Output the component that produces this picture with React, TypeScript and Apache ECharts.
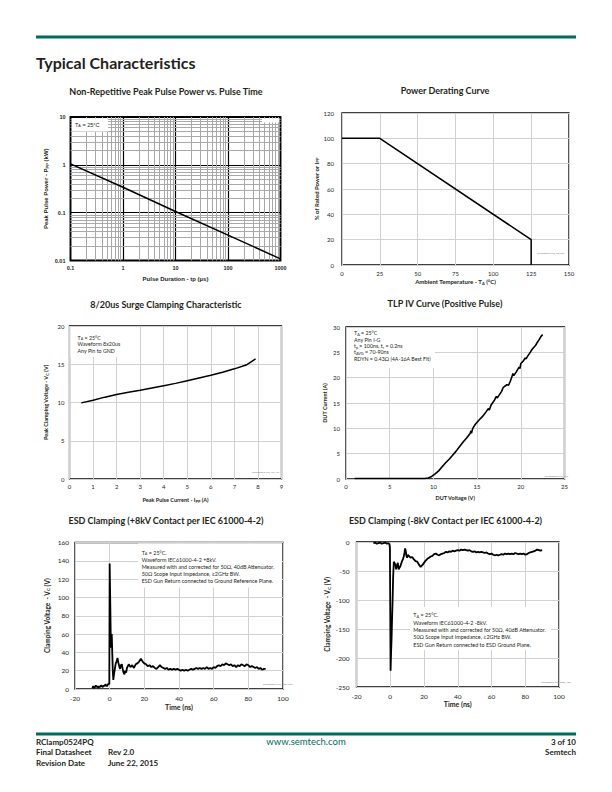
import React, { useEffect, useRef } from 'react';
import * as echarts from 'echarts';

// ---------- DATA ----------
const pulseDuration = [0.1, 1, 10, 100, 1000];
const pulsePower = [1.05, 0.34, 0.106, 0.034, 0.0108];
const minorSteps = [2, 3, 4, 5, 6, 7, 8, 9];
const pulseXDecades = [0.1, 1, 10, 100];
const pulseYDecades = [0.01, 0.1, 1];

const derateTemp = [0, 25, 125, 125];
const deratePct = [100, 100, 20, 0];

const surgeCurrent = [0.5, 1, 1.5, 2, 2.5, 3, 3.5, 4, 4.5, 5, 5.5, 6, 6.5, 7, 7.5, 7.9];
const surgeVoltage = [9.95, 10.3, 10.7, 11.05, 11.35, 11.6, 11.9, 12.2, 12.5, 12.85, 13.2, 13.55, 13.95, 14.4, 14.9, 15.7];

const tlpCurve = [
  [1, 0.1], [3, 0.1], [5, 0.1], [7, 0.1], [9, 0.1], [9.4, 0.2], [9.8, 0.5], [10.2, 1.0], [10.6, 1.6],
  [11.0, 2.4], [11.4, 3.2], [11.8, 3.9], [12.2, 4.7], [12.6, 5.5], [13.0, 6.4], [13.4, 7.3], [13.8, 8.1],
  [14.2, 9.0], [14.3, 9.5], [14.35, 9.0], [14.5, 10.0], [14.8, 10.8], [15.2, 11.6], [15.6, 12.3], [16.0, 13.2],
  [16.3, 13.9], [16.4, 13.6], [16.6, 14.6], [17.0, 15.6], [17.2, 16.3], [17.3, 16.0], [17.5, 16.5], [17.8, 17.3],
  [18.0, 18.1], [18.4, 18.6], [18.6, 18.5], [18.8, 19.3], [19.0, 20.3], [19.1, 20.8], [19.2, 20.4], [19.5, 21.2],
  [19.8, 22.1], [19.9, 21.8], [20.0, 22.8], [20.3, 23.3], [20.5, 23.9], [20.6, 23.7], [20.8, 24.3], [21.0, 24.8],
  [21.3, 25.6], [21.5, 26.0], [21.7, 26.4], [21.9, 27.0], [22.1, 27.5], [22.3, 28.1], [22.5, 28.5],
];

const esdPositive = [
  [-10, 1], [-9.5, 3], [-9, 1], [-8.5, 2], [-8, 4], [-7.5, 2], [-7, 3], [-6.5, 1], [-6, 3], [-5.5, 2],
  [-5, 4], [-4.5, 3], [-4, 2], [-3.5, 4], [-3, 3], [-2.5, 5], [-2, 4], [-1.5, 3], [-1, 5], [-0.5, 6],
  [-0.2, 5], [0, 137], [0.3, 100], [0.6, 60], [0.9, 45], [1.2, 60], [1.5, 40], [1.8, 20], [2.1, 10],
  [2.5, 16], [3, 22], [3.5, 28], [4, 30], [4.5, 34], [5, 29], [5.5, 25], [6, 22], [6.5, 26], [7, 27],
  [7.5, 22], [8, 18], [8.5, 16], [9, 20], [9.5, 18], [10, 23], [11, 27], [12, 24], [13, 26], [14, 23],
  [15, 27], [16, 28], [17, 30], [18, 33], [19, 30], [20, 28], [21, 27], [22, 25], [23, 26], [24, 24],
  [25, 25], [26, 23], [27, 22], [28, 24], [29, 26], [30, 24], [31, 23], [32, 22], [33, 23], [34, 21],
  [35, 22], [36, 21], [37, 22], [38, 21], [39, 22], [40, 21], [41, 20], [42, 21], [43, 20], [44, 21],
  [45, 20], [46, 21], [47, 22], [48, 21], [49, 22], [50, 23], [51, 22], [52, 23], [53, 22], [54, 23],
  [55, 22], [56, 24], [57, 22], [58, 23], [59, 22], [60, 24], [61, 23], [62, 25], [63, 26], [64, 25],
  [65, 27], [66, 26], [67, 28], [68, 27], [69, 26], [70, 27], [71, 25], [72, 26], [73, 24], [74, 26],
  [75, 25], [76, 27], [77, 26], [78, 25], [79, 27], [80, 26], [81, 24], [82, 25], [83, 24], [84, 23],
  [85, 24], [86, 22], [87, 23], [88, 21], [89, 22], [90, 22],
];

const esdNegative = [
  [-10, -2], [-9, -1], [-8, -3], [-7, -2], [-6, -1], [-5, -3], [-4, -2], [-3, -1], [-2, -3], [-1, -2],
  [-0.5, -4], [-0.2, -10], [0, -120], [0.2, -222], [0.5, -190], [0.8, -165], [1.1, -130], [1.4, -100],
  [1.7, -62], [2.1, -34], [2.5, -36], [3, -39], [3.5, -47], [4, -40], [4.5, -36], [5, -47], [5.5, -44],
  [6, -42], [6.5, -37], [7, -33], [7.5, -30], [8, -25], [8.5, -18], [8.8, -11], [9.2, -16], [9.6, -24],
  [10, -27], [10.5, -22], [11, -24], [12, -27], [13, -26], [14, -30], [15, -33], [16, -34], [17, -39],
  [18, -43], [19, -40], [20, -36], [21, -32], [22, -29], [23, -27], [24, -25], [25, -24], [26, -21],
  [27, -20], [28, -22], [29, -23], [30, -21], [31, -20], [32, -19], [33, -17], [34, -18], [35, -16],
  [36, -17], [37, -15], [38, -16], [39, -15], [40, -14], [41, -15], [42, -13], [43, -14], [44, -13],
  [45, -14], [46, -15], [47, -14], [48, -16], [49, -17], [50, -16], [51, -18], [52, -17], [53, -18],
  [54, -17], [55, -18], [56, -19], [57, -18], [58, -20], [59, -21], [60, -20], [61, -22], [62, -23],
  [63, -22], [64, -23], [65, -22], [66, -21], [67, -22], [68, -20], [69, -21], [70, -20], [71, -21],
  [72, -20], [73, -21], [74, -19], [75, -20], [76, -21], [77, -20], [78, -21], [79, -20], [80, -22],
  [81, -21], [82, -19], [83, -18], [84, -17], [85, -16], [86, -15], [87, -13], [88, -14], [89, -15], [90, -14],
];

// ---------- STYLE ----------
const TEAL = '#006b5e';
const INK = '#231f20';
const F = 'Lato';
const ARIAL = 'Liberation Sans';

const zip = (a: number[], b: number[]) => a.map((v, i) => [v, b[i]]);

const sub = (size: number, fam = F) => ({ s: { fontSize: size, fontFamily: fam, fontWeight: 'bold', color: INK, padding: [3, 0, 0, 0] } });
const subN = (size: number, fam = F) => ({ s: { fontSize: size, fontFamily: fam, color: INK, padding: [2.5, 0, 0, 0] } });

function valueAxis(gi: number, min: number, max: number, interval: number, extra: any = {}) {
  return {
    gridIndex: gi, type: 'value', min, max, interval,
    axisLine: { show: false }, axisTick: { show: false },
    splitLine: { show: true, lineStyle: { color: '#d0d0d0', width: 1 } },
    nameLocation: 'middle',
    ...extra,
  };
}

function txt(x: number, y: number, text: string, size: number, opts: any = {}) {
  const align = opts.align || 'left';
  return {
    type: 'text', x, y, z: opts.z ?? 5, silent: true,
    style: {
      text, fontSize: size, fontFamily: opts.fam || F, fontWeight: opts.weight || 'normal',
      fill: opts.color || INK, align, textAlign: align, verticalAlign: 'middle', textVerticalAlign: 'middle',
      rich: opts.rich,
    },
  };
}
function box(x: number, y: number, w: number, h: number) {
  return { type: 'rect', z: 2, silent: true, shape: { x, y, width: w, height: h }, style: { fill: '#fff' } };
}

export default function App() {
  const ref = useRef<HTMLDivElement>(null);
  useEffect(() => {
    if (!ref.current) return;
    const chart = echarts.init(ref.current, undefined, { renderer: 'svg' });

    const minorX = pulseXDecades.flatMap((d) => minorSteps.map((s) => +(d * s).toPrecision(3)));
    const minorY = pulseYDecades.flatMap((d) => minorSteps.map((s) => +(d * s).toPrecision(3)));

    const tick = (size: number, margin: number, fam = F, weight = 'normal') => ({
      fontSize: size, fontFamily: fam, fontWeight: weight, color: INK, margin,
    });
    const nameStyle = (size: number, fam = F, rich: any = undefined) => ({
      fontSize: size, fontFamily: fam, fontWeight: 'bold', color: INK, rich,
    });

    const grids = [
      { left: 70.5, top: 117, width: 210, height: 143.5, borderWidth: 1.8 },
      { left: 342, top: 113, width: 227, height: 152, borderWidth: 1.3 },
      { left: 69.5, top: 326, width: 212, height: 153, borderWidth: 1.3 },
      { left: 346, top: 327, width: 218.5, height: 152, borderWidth: 1.3 },
      { left: 75, top: 542.5, width: 208, height: 146.5, borderWidth: 1.3 },
      { left: 356.5, top: 542, width: 202.5, height: 145, borderWidth: 1.3 },
    ].map((g) => ({ ...g, show: true, borderColor: '#000', containLabel: false }));

    const logFmt = (v: number) => String(+Number(v).toPrecision(2));

    const xAxis: any[] = [
      {
        gridIndex: 0, type: 'log', logBase: 10, min: 0.1, max: 1000,
        axisLine: { show: false }, axisTick: { show: false },
        splitLine: { show: true, lineStyle: { color: '#000', width: 1.2 } },
        axisLabel: { ...tick(5.5, 4.5, ARIAL, 'bold'), formatter: logFmt },
        name: 'Pulse Duration - tp (µs)', nameLocation: 'middle', nameGap: 15,
        nameTextStyle: nameStyle(6, ARIAL),
      },
      valueAxis(1, 0, 150, 25, {
        axisLabel: tick(6, 5),
        name: 'Ambient Temperature - T{s|A} (°C)', nameGap: 13,
        nameTextStyle: nameStyle(6, F, sub(4)),
      }),
      valueAxis(2, 0, 9, 1, {
        axisLabel: tick(6, 4.5),
        name: 'Peak Pulse Current - I{s|PP} (A)', nameGap: 17,
        nameTextStyle: nameStyle(5.5, F, sub(4)),
      }),
      valueAxis(3, 0, 25, 5, {
        axisLabel: tick(6, 4.5),
        name: 'DUT Voltage (V)', nameGap: 16,
        nameTextStyle: nameStyle(5.5),
      }),
      valueAxis(4, -20, 100, 20, {
        axisLabel: tick(6.5, 6),
        name: 'Time (ns)', nameGap: 14,
        nameTextStyle: nameStyle(7),
      }),
      valueAxis(5, -20, 100, 20, {
        axisLabel: tick(6.5, 6),
        name: 'Time (ns)', nameGap: 12.5,
        nameTextStyle: nameStyle(7),
      }),
    ];

    const yAxis: any[] = [
      {
        gridIndex: 0, type: 'log', logBase: 10, min: 0.01, max: 10,
        axisLine: { show: false }, axisTick: { show: false },
        splitLine: { show: true, lineStyle: { color: '#000', width: 1.2 } },
        axisLabel: { ...tick(5.5, 5, ARIAL, 'bold'), formatter: logFmt },
        name: 'Peak Pulse Power - P{s|PP} (kW)', nameLocation: 'middle', nameGap: 21,
        nameTextStyle: nameStyle(6, ARIAL, sub(4, ARIAL)),
      },
      valueAxis(1, 0, 120, 20, {
        axisLabel: tick(6, 8),
        name: '% of Rated Power or I{s|PP}', nameGap: 22,
        nameTextStyle: nameStyle(6, F, sub(4)),
      }),
      valueAxis(2, 0, 20, 5, {
        axisLabel: tick(6, 5),
        name: 'Peak Clamping Voltage - V{s|C} (V)', nameGap: 20,
        nameTextStyle: nameStyle(5.5, F, sub(4)),
      }),
      valueAxis(3, 0, 30, 5, {
        axisLabel: tick(6, 6),
        name: 'DUT Current (A)', nameGap: 18,
        nameTextStyle: nameStyle(5.5),
      }),
      valueAxis(4, 0, 160, 20, {
        axisLabel: tick(6.5, 6),
        name: 'Clamping Voltage  - V{s|C} (V)', nameGap: 24,
        nameTextStyle: nameStyle(6.5, F, sub(4.5)),
      }),
      valueAxis(5, -250, 0, 50, {
        axisLabel: tick(6.5, 7),
        name: 'Clamping Voltage  - V{s|C} (V)', nameGap: 24,
        nameTextStyle: nameStyle(6.5, F, sub(4.5)),
      }),
    ];

    const curve = (i: number, data: any, width: number) => ({
      type: 'line', xAxisIndex: i, yAxisIndex: i, data, symbol: 'none', showSymbol: false,
      lineStyle: { color: '#000', width }, z: 3, silent: true,
    });

    const series: any[] = [
      {
        type: 'line', xAxisIndex: 0, yAxisIndex: 0, data: [[0.1, 0.01]], symbol: 'none',
        lineStyle: { opacity: 0 }, z: 1, silent: true,
        markLine: {
          z: 1, silent: true, symbol: ['none', 'none'], label: { show: false },
          lineStyle: { color: '#a8a8a8', width: 1, type: 'solid' },
          emphasis: { disabled: true },
          data: [...minorX.map((v) => ({ xAxis: v })), ...minorY.map((v) => ({ yAxis: v }))],
        },
      },
      curve(0, zip(pulseDuration, pulsePower), 1.5),
      curve(1, zip(derateTemp, deratePct), 1.5),
      curve(2, zip(surgeCurrent, surgeVoltage), 1.5),
      curve(3, tlpCurve, 1.6),
      curve(4, esdPositive, 1.8),
      curve(5, esdNegative, 1.8),
    ];

    const lines = (x: number, y0: number, dy: number, list: string[], size: number, rich: any) =>
      list.map((t, i) => txt(x, y0 + dy * i, t, size, { rich }));

    const small = subN(3.8);
    const graphic: any[] = [
      { type: 'rect', silent: true, shape: { x: 36, y: 35.5, width: 540, height: 3 }, style: { fill: TEAL } },
      txt(36, 62, 'Typical Characteristics', 16, { weight: 'bold' }),
      txt(166, 91, 'Non-Repetitive Peak Pulse Power vs. Pulse Time', 9, { weight: 'bold', align: 'center' }),
      txt(445, 90, 'Power Derating Curve', 9, { weight: 'bold', align: 'center' }),
      txt(166, 304.5, '8/20us Surge Clamping Characteristic', 9, { weight: 'bold', align: 'center' }),
      txt(445, 303, 'TLP IV Curve (Positive Pulse)', 9, { weight: 'bold', align: 'center' }),
      txt(166, 520, 'ESD Clamping (+8kV Contact per IEC 61000-4-2)', 9, { weight: 'bold', align: 'center' }),
      txt(445.5, 520, 'ESD Clamping (-8kV Contact per IEC 61000-4-2)', 9, { weight: 'bold', align: 'center' }),

      // chart 1 annotations
      box(72, 118.5, 36, 13),
      txt(75, 124.5, 'T{s|A} = 25°C', 5.5, { fam: ARIAL, rich: subN(3.8, ARIAL) }),
      box(262, 118.5, 17, 4),

      // chart 2 tag
      txt(537, 253, 'RClamp0524PQ_PD_DC', 2.5, { color: '#777' }),

      // chart 3
      box(70.5, 327, 47, 30),
      ...lines(77.5, 337.7, 6.7, ['T{s|A} = 25°C', 'Waveform 8x20us', 'Any Pin to GND'], 5.3, small),
      txt(252, 472, 'RClamp0524PQ_IPP_VC', 2.5, { color: '#777' }),

      // chart 4
      box(347, 328, 88, 40),
      ...lines(354, 333.3, 6.3, [
        'T{s|A} = 25°C', 'Any Pin I-G', 't{s|p} = 100ns, t{s|r} = 0.2ns', 't{s|AVG} = 70-90ns', 'RDYN = 0.43Ω (4A-16A Best Fit)',
      ], 5.3, small),
      txt(545, 476, 'RClamp0524PQ_TLP', 2.5, { color: '#777' }),

      // chart 5
      box(138, 543.5, 144, 44),
      ...lines(141.7, 552.5, 7.2, [
        'T{s|A} = 25°C.', 'Waveform IEC61000-4-2 +8kV.', 'Measured with and corrected for 50Ω, 40dB Attenuator.',
        '50Ω Scope Input Impedance, ≥2GHz BW.', 'ESD Gun Return connected to Ground Reference Plane.',
      ], 5.4, small),
      txt(263, 684, 'RClamp0524PQ_ESD_POS', 2.5, { color: '#777' }),

      // chart 6
      box(410, 607, 141, 43),
      ...lines(413.3, 615.3, 7.35, [
        'T{s|A} = 25°C.', 'Waveform IEC61000-4-2 -8kV.', 'Measured with and corrected for 50Ω, 40dB Attenuator.',
        '50Ω Scope Input Impedance, ≥2GHz BW.', 'ESD Gun Return connected to ESD Ground Plane.',
      ], 5.4, small),
      txt(541, 682, 'RClamp0524PQ_ESD_NEG', 2.5, { color: '#777' }),

      // footer
      { type: 'rect', silent: true, shape: { x: 36, y: 732.5, width: 540, height: 3 }, style: { fill: TEAL } },
      txt(36, 741.5, 'RClamp0524PQ', 8, { weight: 'bold' }),
      txt(36, 752, 'Final Datasheet', 8, { weight: 'bold' }),
      txt(36, 762.5, 'Revision Date', 8, { weight: 'bold' }),
      txt(108, 752, 'Rev 2.0', 8, { weight: 'bold' }),
      txt(108, 762.5, 'June 22, 2015', 8, { weight: 'bold' }),
      txt(306, 741.5, 'www.semtech.com', 9.5, { align: 'center', color: TEAL }),
      txt(576, 741.5, '3 of 10', 8, { weight: 'bold', align: 'right' }),
      txt(576, 752, 'Semtech', 8, { weight: 'bold', align: 'right' }),
    ];

    chart.setOption({
      animation: false,
      backgroundColor: '#fff',
      textStyle: { fontFamily: F, color: INK },
      grid: grids,
      xAxis,
      yAxis,
      series,
      graphic: { elements: graphic },
    });
    return () => chart.dispose();
  }, []);

  return (
    <div
      ref={ref}
      style={{ position: 'absolute', left: 0, top: 0, width: 612, height: 792, background: '#fff' }}
    />
  );
}
